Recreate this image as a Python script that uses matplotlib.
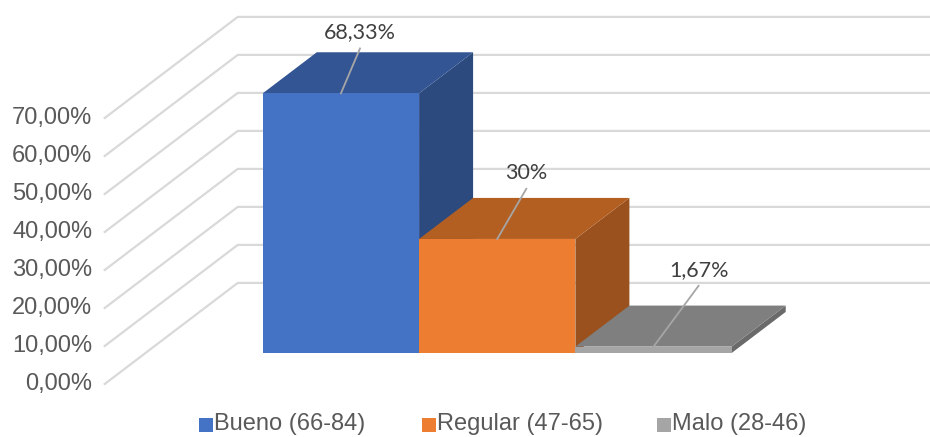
import matplotlib
matplotlib.use("Agg")
import matplotlib.pyplot as plt
from matplotlib.patches import Polygon, Rectangle

# ── Data ──────────────────────────────────────────────────────────────────────
categories = ["Bueno (66-84)", "Regular (47-65)", "Malo (28-46)"]
values = [68.33, 30.0, 1.67]
value_labels = ["68,33%", "30%", "1,67%"]
tick_values = [0, 10, 20, 30, 40, 50, 60, 70]
tick_labels = ["0,00%", "10,00%", "20,00%", "30,00%", "40,00%", "50,00%", "60,00%", "70,00%"]

# ── Style ─────────────────────────────────────────────────────────────────────
face_colors = ["#4472C4", "#ED7D31", "#A5A5A5"]
top_colors = ["#335594", "#B45F22", "#7F7F7F"]
side_colors = ["#2C4A7E", "#9A511E", "#6A6A6A"]
GRID = "#D9D9D9"
TEXT = "#595959"

# oblique projection: a point at depth d (0 front .. 1 back) is shifted by d*(DX, DY)
DX, DY = 0.851, 26.6
D0, D1 = 0.307, 0.713      # depth span of the bars
WALL_X = -0.75             # left side wall
BAR_W = 1.0

# leader line (dx, dy) from the bar's front top edge, in data units
leader_offsets = [(0.122, 11.8), (0.186, 13.2), (0.288, 16.0)]
LABEL_GAP = 4.2


def proj(x, y, d):
    return (x + DX * d, y + DY * d)


fig = plt.figure(figsize=(9.3, 4.37), dpi=100)
ax = fig.add_axes([0, 0, 1, 1])
ax.set_xlim(-1.420, 4.530)
ax.set_ylim(-13.95, 101.05)
ax.axis("off")

# gridlines on side wall and back wall
for v, lab in zip(tick_values, tick_labels):
    p0 = proj(WALL_X, v, 0)
    p1 = proj(WALL_X, v, 1)
    ax.plot([p0[0], p1[0], 4.6], [p0[1], p1[1], p1[1]], color=GRID, lw=1.6,
            solid_joinstyle="miter", zorder=1)
    ax.text(p0[0] - 0.08, p0[1], lab, ha="right", va="center", fontsize=17,
            color=TEXT, family="Liberation Sans")

# bars, left to right so each one covers the shared side of the previous one
for i, (v, fc, tc, sc) in enumerate(zip(values, face_colors, top_colors, side_colors)):
    x0, x1 = i * BAR_W, (i + 1) * BAR_W
    front = [proj(x0, 0, D0), proj(x1, 0, D0), proj(x1, v, D0), proj(x0, v, D0)]
    top = [proj(x0, v, D0), proj(x1, v, D0), proj(x1, v, D1), proj(x0, v, D1)]
    side = [proj(x1, 0, D0), proj(x1, 0, D1), proj(x1, v, D1), proj(x1, v, D0)]
    ax.add_patch(Polygon(side, closed=True, fc=sc, ec="none", zorder=3 + i))
    ax.add_patch(Polygon(top, closed=True, fc=tc, ec="none", zorder=3 + i))
    ax.add_patch(Polygon(front, closed=True, fc=fc, ec="none", zorder=3 + i))

# data labels with leader lines
for i, (v, txt) in enumerate(zip(values, value_labels)):
    bx, by = proj(i * BAR_W + 0.5 * BAR_W, v, D0)
    lx, ly = bx + leader_offsets[i][0], by + leader_offsets[i][1]
    ax.plot([bx, lx], [by, ly], color="#A6A6A6", lw=1.3, zorder=10)
    ax.text(lx, ly + LABEL_GAP, txt, ha="center", va="center", fontsize=15.5,
            color="#404040", family="Lato", zorder=11)

# legend along the bottom edge
legend_x = [199, 422, 657]
for cat, fc, lx in zip(categories, face_colors, legend_x):
    ax.add_patch(Rectangle((lx, 5), 14, 14, transform=None, fc=fc, ec="none"))
    fig.text((lx + 15) / 930, 1 - 424 / 437, cat, ha="left", va="center",
             fontsize=17, color=TEXT, family="Liberation Sans")

fig.savefig("out.png", dpi=100)
